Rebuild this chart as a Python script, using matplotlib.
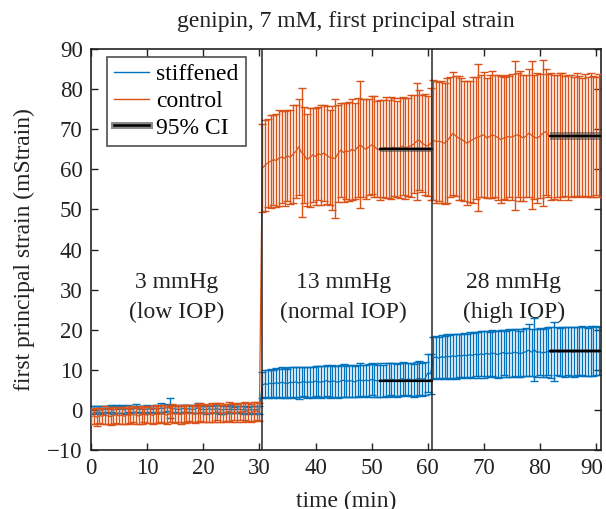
import numpy as np
import matplotlib
matplotlib.use("Agg")
import matplotlib.pyplot as plt
import matplotlib.transforms as mtransforms
from matplotlib.lines import Line2D
from matplotlib.legend_handler import HandlerTuple

plt.rcParams['font.family'] = ['Liberation Serif', 'DejaVu Serif']
plt.rcParams['mathtext.fontset'] = 'stix'

# ---------------- data (mStrain), sampled every 0.5 min ----------------
step_min = 0.5

stiff_mean = [
    # 3 mmHg (t = 0 ... 30)
    0.1, 0.0, 0.2, 0.1, -0.1, 0.2, 0.1, 0.3, 0.0, 0.2,
    0.1, 0.2, 0.0, 0.3, 0.1, 0.2, 0.4, 0.1, 0.2, 0.0,
    0.3, 0.2, 0.1, 0.3, 0.2, 0.5, 0.3, 0.6, 0.5, 0.2,
    0.3, 0.1, 0.2, 0.4, 0.2, 0.3, 0.1, 0.2, 0.5, 0.1,
    0.2, 0.0, 0.3, 0.1, 0.2, 0.3, 0.1, 0.0, 0.2, 0.1,
    0.2, 0.0, 0.1, 0.2, 0.0, 0.1, -0.1, 0.1, 0.0, 0.1,
    0.0,
    # 13 mmHg (t = 30.5 ... 60.5)
    6.2, 6.5, 6.4, 6.7, 6.5, 6.8, 6.6, 6.9, 6.7, 6.6,
    6.9, 6.8, 7.0, 6.7, 6.9, 7.1, 6.8, 7.0, 6.9, 7.2,
    7.0, 6.9, 7.1, 7.3, 7.0, 7.2, 7.1, 6.9, 7.2, 7.4,
    7.1, 7.3, 7.2, 7.0, 7.3, 7.5, 7.2, 7.4, 7.3, 7.6,
    7.4, 7.2, 7.5, 7.3, 7.6, 7.4, 7.7, 7.5, 7.3, 7.6,
    7.8, 7.5, 7.7, 7.6, 7.4, 7.7, 7.9, 7.6, 7.8, 9.2,
    9.0,
    # 28 mmHg (t = 61 ... 90.5)
    13.0, 13.2, 12.9, 13.3, 13.1, 13.4, 13.2, 13.5, 13.3, 13.6,
    13.4, 13.7, 13.5, 13.8, 13.6, 13.9, 13.7, 14.0, 13.8, 14.1,
    13.9, 14.2, 14.0, 13.8, 14.1, 14.3, 14.0, 14.2, 14.1, 14.4,
    14.2, 14.0, 14.3, 14.5, 14.9, 14.4, 15.0, 14.3, 14.5, 14.2,
    14.4, 14.6, 14.3, 14.5, 14.7, 14.4, 14.6, 14.5, 14.8, 14.6,
    14.4, 14.7, 14.5, 14.8, 14.6, 14.5, 14.7, 14.6, 14.8, 14.7,
]

stiff_err = [
    0.8, 0.9, 0.8, 0.9, 1.0, 0.8, 0.9, 0.8, 1.0, 0.9,
    0.8, 0.9, 1.0, 0.8, 0.9, 0.8, 1.0, 0.9, 0.8, 0.9,
    1.0, 0.8, 0.9, 0.8, 1.0, 1.2, 0.9, 0.9, 2.5, 0.9,
    0.8, 0.9, 1.0, 0.8, 0.9, 0.8, 0.9, 1.0, 1.2, 0.9,
    0.8, 0.9, 1.0, 0.8, 0.9, 0.8, 1.0, 0.9, 0.8, 0.9,
    1.0, 0.8, 0.9, 0.8, 1.0, 0.9, 0.8, 0.9, 1.0, 0.8,
    0.9,
    3.2, 3.4, 3.5, 3.6, 3.5, 3.7, 3.6, 3.7, 3.8, 3.6,
    3.7, 3.8, 3.7, 3.9, 3.8, 3.7, 3.9, 3.8, 3.9, 3.8,
    3.9, 4.0, 3.8, 3.9, 4.0, 3.9, 3.8, 4.0, 3.9, 4.1,
    3.9, 4.0, 4.1, 3.9, 4.0, 4.1, 4.0, 3.9, 4.1, 4.0,
    4.1, 4.0, 4.2, 4.0, 4.1, 4.2, 4.0, 4.1, 4.2, 4.1,
    4.2, 4.1, 4.0, 4.2, 4.1, 4.2, 4.3, 4.1, 4.2, 4.8,
    5.0,
    5.2, 5.3, 5.2, 5.4, 5.3, 5.5, 5.4, 5.5, 5.6, 5.4,
    5.5, 5.6, 5.5, 5.7, 5.6, 5.5, 5.7, 5.6, 5.8, 5.7,
    5.6, 5.8, 5.7, 5.8, 5.9, 5.7, 5.8, 5.9, 5.8, 5.9,
    6.0, 5.8, 5.9, 6.0, 6.4, 5.9, 7.8, 6.0, 5.9, 6.0,
    6.1, 6.0, 6.4, 7.4, 6.1, 6.0, 6.1, 6.2, 6.0, 6.1,
    6.2, 6.0, 6.1, 6.2, 6.1, 6.0, 6.2, 6.1, 6.2, 6.1,
]

ctrl_mean = [
    # 3 mmHg
    -1.7, -1.5, -1.8, -1.4, -1.6, -1.3, -1.5, -1.7, -1.4, -1.2,
    -1.5, -1.3, -1.6, -1.2, -1.4, -1.1, -1.3, -1.5, -1.2, -1.0,
    -1.3, -1.1, -1.4, -1.0, -1.2, -0.9, -1.1, -1.3, -1.0, -0.8,
    -1.1, -0.9, -1.2, -0.8, -1.0, -0.7, -0.9, -1.1, -0.8, -0.6,
    -0.9, -0.7, -1.0, -0.6, -0.8, -0.5, -0.7, -0.9, -0.6, -0.4,
    -0.7, -0.5, -0.8, -0.4, -0.6, -0.3, -0.5, -0.7, -0.4, -0.3,
    -0.5,
    # 13 mmHg
    60.3, 61.0, 61.6, 62.0, 62.4, 62.2, 62.8, 63.1, 62.7, 63.4,
    63.0, 63.8, 64.5, 65.6, 64.2, 63.5, 62.4, 63.0, 63.6, 63.2,
    63.9, 63.6, 64.1, 63.5, 63.0, 62.8, 62.7, 63.9, 64.8, 64.2,
    64.6, 64.4, 65.0, 64.6, 65.5, 66.1, 65.4, 65.0, 65.6, 66.1,
    65.7, 65.0, 64.8, 65.2, 65.4, 65.0, 65.3, 65.6, 65.1, 65.4,
    65.8, 65.3, 65.6, 65.9, 66.3, 67.0, 67.3, 66.5, 66.1, 65.8,
    66.4,
    # 28 mmHg
    67.3, 66.9, 67.0, 66.8, 66.5, 67.2, 68.1, 69.0, 68.3, 67.8,
    67.5, 67.0, 66.5, 67.0, 67.4, 67.8, 68.0, 68.4, 68.6, 67.8,
    68.2, 68.6, 68.3, 67.9, 67.4, 67.8, 68.0, 68.2, 68.0, 68.4,
    68.6, 68.3, 67.8, 68.3, 69.0, 68.5, 68.0, 67.8, 68.3, 69.0,
    69.4, 68.5, 68.2, 68.0, 68.4, 68.1, 68.5, 68.3, 68.0, 68.4,
    68.2, 68.6, 68.3, 68.0, 68.4, 68.2, 68.5, 68.1, 68.3, 68.4,
]

ctrl_err = [
    1.9, 2.0, 2.1, 1.9, 2.0, 2.2, 1.9, 2.0, 2.1, 2.0,
    1.9, 2.1, 2.0, 2.2, 1.9, 2.0, 2.1, 2.0, 2.2, 1.9,
    2.0, 2.1, 2.0, 2.2, 2.1, 2.0, 2.2, 2.1, 2.0, 2.2,
    2.1, 2.0, 2.2, 2.1, 2.3, 2.0, 2.2, 2.1, 2.3, 2.2,
    2.0, 2.2, 2.1, 2.3, 2.2, 2.1, 2.3, 2.2, 2.1, 2.3,
    2.2, 2.1, 2.3, 2.2, 2.4, 2.2, 2.3, 2.2, 2.4, 2.3,
    2.3,
    11.0, 11.3, 11.0, 11.6, 11.2, 11.5, 12.0, 11.4, 11.8, 11.3,
    11.7, 12.2, 11.6, 11.9, 16.2, 12.0, 11.5, 12.3, 11.8, 12.1,
    11.6, 12.4, 11.9, 12.2, 11.8, 13.0, 14.8, 12.1, 11.7, 12.4,
    11.9, 12.3, 12.6, 12.0, 12.4, 15.8, 12.2, 12.5, 11.9, 12.3,
    12.7, 12.0, 12.4, 12.1, 12.6, 12.2, 12.8, 12.3, 12.0, 12.5,
    12.2, 12.6, 12.3, 12.7, 12.2, 14.6, 12.4, 12.1, 12.6, 12.4,
    14.0,
    15.0, 15.2, 14.8, 15.3, 15.1, 15.6, 14.9, 15.3, 15.0, 15.4,
    15.2, 14.9, 15.5, 15.1, 15.7, 15.3, 18.3, 15.2, 15.6, 15.0,
    15.4, 15.8, 15.2, 15.5, 15.9, 15.3, 15.6, 15.1, 15.7, 18.5,
    15.4, 16.3, 15.6, 15.2, 16.0, 18.5, 15.5, 16.1, 15.4, 18.2,
    15.7, 15.3, 15.9, 15.5, 15.2, 15.8, 15.4, 15.0, 15.6, 15.2,
    14.8, 15.4, 15.0, 14.7, 15.3, 14.9, 15.5, 15.1, 14.8, 15.3,
]

# 95% CI over the last ~9 min of each pressure step
ci_start = [51.5, 81.7]
ci_end = [60.8, 90.8]
stiff_ci = [7.3, 14.7]
stiff_ci_hw = [0.35, 0.45]
ctrl_ci = [65.0, 68.3]
ctrl_ci_hw = [0.6, 1.0]

step_times = [30.45, 60.8]
step_labels = ["3 mmHg\n(low IOP)", "13 mmHg\n(normal IOP)", "28 mmHg\n(high IOP)"]
step_label_x = [15.2, 45.0, 75.3]
step_label_y = 28.0

xticks = list(range(0, 91, 10))
yticks = list(range(-10, 91, 10))

BLUE = '#0072BD'
ORANGE = '#D95319'
INK = '#222222'
FS = 17

t_stiff = np.arange(len(stiff_mean)) * step_min
t_ctrl = np.arange(len(ctrl_mean)) * step_min

fig = plt.figure(figsize=(6.06, 5.09), dpi=100)
ax = fig.add_axes([0.1502, 0.1159, 0.8410, 0.7878])

ax.errorbar(t_stiff, stiff_mean, yerr=stiff_err, color=BLUE, lw=0.9,
            elinewidth=1.0, capsize=3.2, capthick=1.0, zorder=2)
ax.errorbar(t_ctrl, ctrl_mean, yerr=ctrl_err, color=ORANGE, lw=0.9,
            elinewidth=1.0, capsize=3.2, capthick=1.0, zorder=3)

for i in range(len(ci_start)):
    for m, hw in ((stiff_ci[i], stiff_ci_hw[i]), (ctrl_ci[i], ctrl_ci_hw[i])):
        ax.fill_between([ci_start[i], ci_end[i]], m - hw, m + hw,
                        color='0.25', alpha=0.55, lw=0, zorder=4)
        ax.plot([ci_start[i], ci_end[i]], [m, m], color='black', lw=1.6, zorder=5)

for st in step_times:
    ax.axvline(st, color='0.15', lw=1.1, zorder=6)

for lab, lx in zip(step_labels, step_label_x):
    ax.text(lx, step_label_y, lab, ha='center', va='center', fontsize=FS,
            linespacing=1.55, color=INK)

ax.set_xlim(0, 90.8)
ax.set_ylim(-10, 90)
ax.set_xticks(xticks)
ax.set_yticks(yticks)
ax.set_yticklabels([("\u2212%d" % -v) if v < 0 else str(v) for v in yticks])
ax.tick_params(direction='in', top=True, right=True, length=5, width=1.0,
               labelsize=16.5, colors=INK, pad=6)
for sp in ax.spines.values():
    sp.set_linewidth(1.2)
    sp.set_color(INK)

# keep the last x tick label inside the figure, as in the reference
last_lab = ax.get_xticklabels()[-1]
last_lab.set_transform(last_lab.get_transform() +
                       mtransforms.ScaledTranslation(-4 / 100, 0, fig.dpi_scale_trans))

ax.set_xlabel("time (min)", fontsize=FS, color=INK, labelpad=8)
ax.set_ylabel("first principal strain (mStrain)", fontsize=FS, color=INK, labelpad=9)
ax.set_title("genipin, 7 mM, first principal strain", fontsize=FS, color=INK, pad=16)

h_stiff = Line2D([], [], color=BLUE, lw=1.0)
h_ctrl = Line2D([], [], color=ORANGE, lw=1.0)
h_ci = (Line2D([], [], color='0.35', lw=5, alpha=0.7), Line2D([], [], color='black', lw=1.8))
leg = ax.legend([h_stiff, h_ctrl, h_ci], ["stiffened", "control", "95% CI"],
                handler_map={tuple: HandlerTuple(ndivide=1, pad=0)},
                loc='upper left', bbox_to_anchor=(0.031, 0.981), fontsize=FS,
                frameon=True, fancybox=False, edgecolor=INK,
                handlelength=1.5, handletextpad=0.3, borderpad=0.3,
                labelspacing=0.22, borderaxespad=0.0)
leg.get_frame().set_linewidth(1.2)
leg.set_zorder(10)

fig.savefig("out.png", dpi=100)
